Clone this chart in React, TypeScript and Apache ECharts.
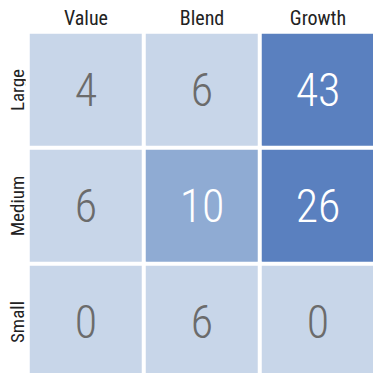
import React, { useEffect, useRef } from "react";
import * as echarts from "echarts";

const styles = ["Value", "Blend", "Growth"];
const sizes = ["Large", "Medium", "Small"];
const values: number[][] = [
  [4, 6, 43],
  [6, 10, 26],
  [0, 6, 0],
];

const FONT = "'Roboto Condensed', Roboto, sans-serif";

export default function App() {
  const ref = useRef<HTMLDivElement>(null);
  useEffect(() => {
    const chart = echarts.init(ref.current!, null, { renderer: "svg" });
    const data: any[] = [];
    sizes.forEach((s, r) => {
      styles.forEach((st, c) => {
        const v = values[r][c];
        data.push({
          value: [c, r, v],
          label: { color: v >= 10 ? "#ffffff" : "#6b6b6b" },
        });
      });
    });
    chart.setOption({
      animation: false,
      grid: { left: 28, right: 5, top: 32, bottom: 1 },
      xAxis: {
        type: "category",
        data: styles,
        position: "top",
        axisLine: { show: false },
        axisTick: { show: false },
        axisLabel: { color: "#222", fontSize: 20, fontFamily: FONT, margin: 4 },
        splitArea: { show: false },
      },
      yAxis: {
        type: "category",
        data: sizes,
        inverse: true,
        axisLine: { show: false },
        axisTick: { show: false },
        axisLabel: {
          color: "#222",
          fontSize: 19,
          lineHeight: 19,
          fontFamily: FONT,
          rotate: 90,
          margin: 1,
        },
      },
      visualMap: {
        show: false,
        type: "piecewise",
        dimension: 2,
        pieces: [
          { lt: 9, color: "#c8d6e9" },
          { gte: 9, lt: 20, color: "#8fabd3" },
          { gte: 20, color: "#5a80bf" },
        ],
      },
      series: [
        {
          type: "heatmap",
          data,
          itemStyle: { borderColor: "#ffffff", borderWidth: 4 },
          label: { show: true, fontSize: 46, fontFamily: FONT, fontWeight: 300 },
          emphasis: { disabled: true },
        },
      ],
    });
    return () => chart.dispose();
  }, []);
  return <div ref={ref} style={{ width: 381, height: 381, margin: -8 }} />;
}
